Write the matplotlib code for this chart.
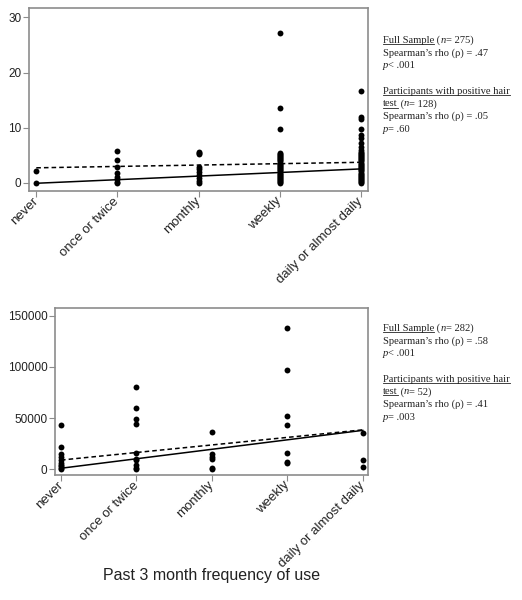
import matplotlib
matplotlib.use("Agg")
import matplotlib.pyplot as plt
from matplotlib.lines import Line2D

plt.rcParams['font.family'] = ['Liberation Sans', 'DejaVu Sans']

# 類別 (x 軸)
categories = ["never", "once or twice", "monthly", "weekly", "daily or almost daily"]

# 上圖資料 (每個類別的觀測值)
top_never = [0.0, 2.1]
top_once = [0.0, 0.25, 0.65, 1.15, 1.9, 2.9, 4.1, 5.85]
top_monthly = [0.0, 0.4, 0.85, 1.45, 2.05, 2.5, 2.95, 5.25, 5.5, 5.7]
top_weekly = [0.0, 0.15, 0.3, 0.5, 0.7, 0.9, 1.1, 1.3, 1.5, 1.7, 1.9, 2.1, 2.3, 2.5,
              2.7, 2.9, 3.1, 3.3, 3.5, 3.7, 3.9, 4.1, 4.3, 4.5, 4.7, 4.9, 5.1, 5.3,
              5.5, 9.7, 13.6, 27.1]
top_daily = [0.0, 0.15, 0.3, 0.5, 0.7, 0.9, 1.1, 1.3, 1.5, 1.7, 1.9, 2.1, 2.3, 2.5,
             2.7, 2.9, 3.1, 3.3, 3.5, 3.7, 3.9, 4.1, 4.3, 4.5, 4.7, 4.9, 5.1, 5.3,
             5.5, 5.7, 6.0, 6.6, 7.3, 8.1, 8.7, 9.7, 11.6, 12.0, 16.7]
top_solid = [-0.05, 2.55]   # 全樣本迴歸線 (never -> daily)
top_dashed = [2.75, 3.75]   # 陽性頭髮檢測者

# 下圖資料
bot_never = [0, 1500, 3000, 4200, 6500, 9000, 11700, 15000, 22000, 43300]
bot_once = [0, 1600, 4200, 9000, 10500, 15800, 44000, 49500, 60000, 80500]
bot_monthly = [0, 1000, 9800, 12300, 15000, 36400]
bot_weekly = [6300, 7400, 15900, 43000, 52000, 97000, 138300]
bot_daily = [2000, 9100, 35100]
bot_solid = [1000, 38000]
bot_dashed = [9000, 38500]

top_text = [
    [("Full Sample", "normal", True), (" (", "normal", False), ("n", "italic", False), ("= 275)", "normal", False)],
    [("Spearman\u2019s rho (\u03c1) = .47", "normal", False)],
    [("p", "italic", False), ("< .001", "normal", False)],
    None,
    [("Participants with positive hair", "normal", True)],
    [("test", "normal", True), (" (", "normal", False), ("n", "italic", False), ("= 128)", "normal", False)],
    [("Spearman\u2019s rho (\u03c1) = .05", "normal", False)],
    [("p", "italic", False), ("= .60", "normal", False)],
]
bot_text = [
    [("Full Sample", "normal", True), (" (", "normal", False), ("n", "italic", False), ("= 282)", "normal", False)],
    [("Spearman\u2019s rho (\u03c1) = .58", "normal", False)],
    [("p", "italic", False), ("< .001", "normal", False)],
    None,
    [("Participants with positive hair", "normal", True)],
    [("test", "normal", True), (" (", "normal", False), ("n", "italic", False), ("= 52)", "normal", False)],
    [("Spearman\u2019s rho (\u03c1) = .41", "normal", False)],
    [("p", "italic", False), ("= .003", "normal", False)],
]

W, H = 522, 600
fig = plt.figure(figsize=(W / 100, H / 100), dpi=100)
renderer = fig.canvas.get_renderer()

ax1 = fig.add_axes([29 / W, 1 - 191 / H, 339 / W, 183 / H])
ax2 = fig.add_axes([55 / W, 1 - 475 / H, 313 / W, 167 / H])

SPINE = "#8c8c8c"


def draw_panel(ax, cols, solid, dashed, ylim, yticks, xlim):
    for i, vals in enumerate(cols):
        ax.scatter([i] * len(vals), vals, s=18, color="black", zorder=3, linewidths=0)
    ax.plot([0, 4], solid, color="black", lw=1.1, zorder=2)
    ax.plot([0, 4], dashed, color="black", lw=1.1, ls=(0, (3, 2)), zorder=2)
    ax.set_xlim(*xlim)
    ax.set_ylim(*ylim)
    ax.set_yticks(yticks)
    ax.set_xticks(range(len(categories)))
    ax.set_xticklabels(categories, rotation=45, ha="right", va="center",
                       rotation_mode="anchor")
    for sp in ax.spines.values():
        sp.set_color(SPINE)
        sp.set_linewidth(1.2)
    ax.tick_params(direction="out", length=4, width=0.8, color=SPINE,
                   labelcolor="#222222")
    ax.tick_params(axis="x", labelsize=9.5, pad=2)
    ax.tick_params(axis="y", labelsize=8.5, pad=1.5)


draw_panel(ax1, [top_never, top_once, top_monthly, top_weekly, top_daily],
           top_solid, top_dashed, (-1.45, 31.7), [0, 10, 20, 30], (-0.09, 4.09))
draw_panel(ax2, [bot_never, bot_once, bot_monthly, bot_weekly, bot_daily],
           bot_solid, bot_dashed, (-5600, 157500), [0, 50000, 100000, 150000], (-0.08, 4.07))
ax2.set_xlabel("Past 3 month frequency of use", fontsize=11.5, color="#222222", labelpad=-1)


def rich_block(x_px, y_px, lines, step=12.7, fs=7.6):
    y = y_px
    for parts in lines:
        if parts is not None:
            x = x_px / W
            for s, style, under in parts:
                t = fig.text(x, 1 - y / H, s, family="Liberation Serif", fontstyle=style,
                             fontsize=fs, color="#222222", va="baseline", ha="left")
                bb = t.get_window_extent(renderer)
                if under:
                    uy = (bb.y0 + 1.0) / H
                    fig.add_artist(Line2D([bb.x0 / W, bb.x1 / W], [uy, uy],
                                          color="#222222", lw=0.6))
                x = bb.x1 / W
        y += step


rich_block(383, 43, top_text)
rich_block(383, 331, bot_text)

fig.savefig("out.png", dpi=100, facecolor="white")
